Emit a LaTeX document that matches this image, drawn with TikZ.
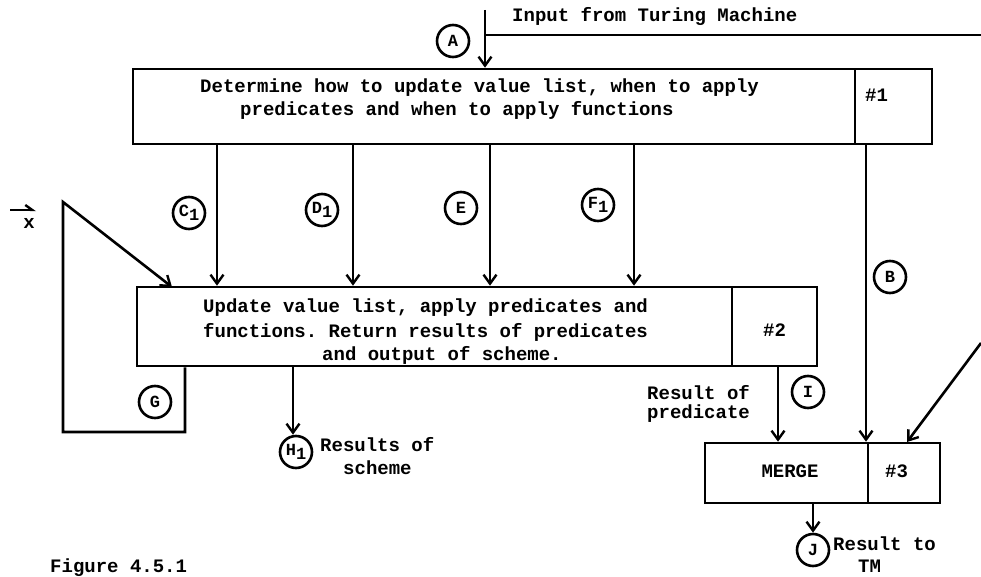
\documentclass[tikz,border=0pt]{standalone}
\usepackage{fontspec}
\setmonofont{Liberation Mono}
\usetikzlibrary{arrows.meta}
\begin{document}
\begin{tikzpicture}[x=1pt,y=-1pt,
  every node/.style={font=\ttfamily\bfseries\fontsize{19}{22}\selectfont},
  ln/.style={line width=2.6pt},
  arr/.style={ln,-{Straight Barb[length=9pt,width=13pt,line width=2.4pt]}},
  cell/.style={draw,line width=2.6pt,rectangle,inner sep=0pt},
  txt/.style={anchor=west,inner sep=0pt},
  tag/.style={circle,draw,line width=2.6pt,minimum size=32pt,inner sep=0pt,
    font=\ttfamily\bfseries\fontsize{17}{17}\selectfont}]
\useasboundingbox (0,0) rectangle (981,577);

% process #1
\node[cell,minimum width=722pt,minimum height=75pt] (p1) at (494,106.5) {};
\node[cell,minimum width=77pt,minimum height=75pt] (p1n) at (893.5,106.5) {};
\node[txt] (p1a) at (200,88) {Determine how to update value list, when to apply};
\node[txt] (p1b) at (240,110) {predicates and when to apply functions};
\node[txt] (p1c) at (865,95) {\#1};

% process #2
\node[cell,minimum width=595pt,minimum height=79pt] (p2) at (434.5,326.5) {};
\node[cell,minimum width=85pt,minimum height=79pt] (p2n) at (774.5,326.5) {};
\node[txt] (p2a) at (203,308) {Update value list, apply predicates and};
\node[txt] (p2b) at (203,332) {functions. Return results of predicates};
\node[txt] (p2c) at (322,355) {and output of scheme.};
\node[txt] (p2d) at (763,330) {\#2};

% merge #3
\node[cell,minimum width=163pt,minimum height=60pt] (p3) at (786.5,473) {};
\node[cell,minimum width=72pt,minimum height=60pt] (p3n) at (904,473) {};
\node (p3a) at (790,471) {MERGE};
\node[txt] (p3b) at (885,471) {\#3};

% input from the Turing machine
\coordinate (inTop) at (485,10);
\coordinate (inRight) at (981,35);
\node[txt] (inLbl) at (512,16) {Input from Turing Machine};
\draw[ln] (inRight) -- (inRight -| inTop);
\draw[arr] (inTop) -- (p1.north -| inTop);
\node[tag] (tA) at (453,41) {A};

% columns from #1 to #2
\coordinate (xc) at (217,0);
\coordinate (xd) at (353,0);
\coordinate (xe) at (490,0);
\coordinate (xf) at (634,0);
\coordinate (xb) at (866,0);
\foreach \c in {xc,xd,xe,xf}
  \draw[arr] (p1.south -| \c) -- (p2.north -| \c);
\node[tag] (tC) at (189,213) {C\raisebox{-4pt}{1}};
\node[tag] (tD) at (322,210) {D\raisebox{-4pt}{1}};
\node[tag] (tE) at (461,208) {E};
\node[tag] (tF) at (598,205) {F\raisebox{-4pt}{1}};

% path B from #1 to merge
\draw[arr] (p1n.south -| xb) -- (p3.north -| xb);
\node[tag] (tB) at (890,277) {B};

% feedback loop G
\coordinate (xg) at (185,0);
\coordinate (g1) at (185,432);
\coordinate (g2) at (63,432);
\coordinate (g3) at (63,202);
\coordinate (g4) at (172,287);
\draw[arr] (p2.south -| xg) -- (g1) -- (g2) -- (g3) -- (g4);
\node[tag] (tG) at (155,402) {G};

% vector x input
\coordinate (vx1) at (10,210);
\coordinate (vx2) at (36,210);
\draw[ln,-{Straight Barb[left,length=7pt,width=10pt,line width=2.4pt]}] (vx1) -- (vx2);
\node[inner sep=0pt] (vx) at (29,223) {x};

% results of scheme
\node[tag] (tH) at (296,452) {H\raisebox{-4pt}{1}};
\coordinate (xh) at (293,0);
\draw[arr] (p2.south -| xh) -- (tH.north -| xh);
\node[txt] (hA) at (320,445) {Results of};
\node[txt] (hB) at (343,468) {scheme};

% result of predicate
\coordinate (xi) at (778,0);
\draw[arr] (p2n.south -| xi) -- (p3.north -| xi);
\node[tag] (tI) at (808,392) {I};
\node[txt] (iA) at (647,393) {Result of};
\node[txt] (iB) at (647,414) {predicate};

% diagonal input to merge
\coordinate (dg) at (981,343);
\coordinate (dgEnd) at (907,442);
\draw[arr] (dg) -- (dgEnd);

% result to TM
\node[tag] (tJ) at (813,550) {J};
\draw[arr] (p3.south -| tJ) -- (tJ.north);
\node[txt] (jA) at (833,544) {Result to};
\node[txt] (jB) at (858,566) {TM};

\node[txt] (fig) at (50,568) {Figure 4.5.1};
\end{tikzpicture}
\end{document}
